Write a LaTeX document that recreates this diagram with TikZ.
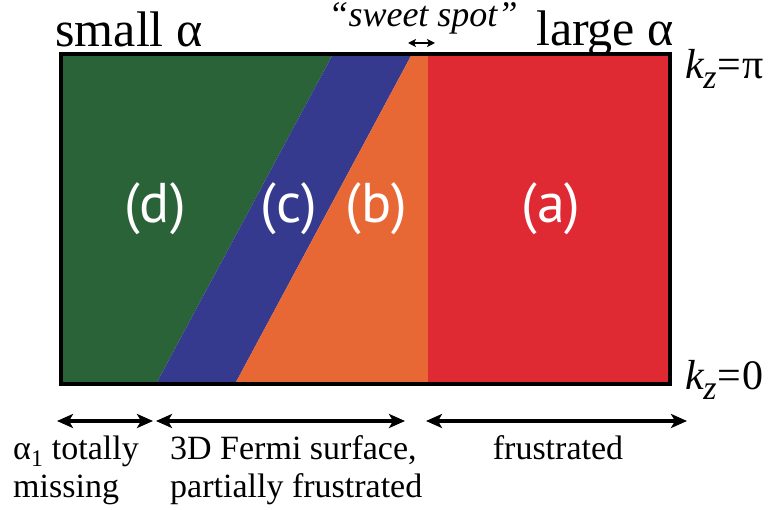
\documentclass[tikz,border=0pt]{standalone}
\usepackage{fontspec}
\setmainfont{Liberation Serif}
\newfontfamily\labfont{PT Sans}
\usetikzlibrary{arrows.meta}
\definecolor{cgreen}{HTML}{2B6339}
\definecolor{cblue}{HTML}{363A8E}
\definecolor{corange}{HTML}{E86835}
\definecolor{cred}{HTML}{E02A33}
\tikzset{
  reglabel/.style={text=white,font=\labfont\fontsize{56}{60}\selectfont},
  toplabel/.style={font=\fontsize{50}{56}\selectfont,anchor=base},
  kzlabel/.style={font=\fontsize{42}{46}\selectfont,anchor=base west,inner sep=0pt},
  botlabel/.style={font=\fontsize{34}{38}\selectfont,anchor=base west,inner sep=0pt},
  span/.style={{Stealth[length=16pt,width=14pt,inset=4pt]}-{Stealth[length=16pt,width=14pt,inset=4pt]},line width=3.5pt,black},
}
\newcommand{\kzsub}{\textit{k}\kern-1pt\raisebox{-10pt}{\fontsize{34}{36}\selectfont\textit{z}}\kern1pt}
\begin{document}
\begin{tikzpicture}[x=1pt,y=-1pt]
\useasboundingbox (0,0) rectangle (771,510);
\fill[cgreen] (61,54) -- (333,54) -- (156,384) -- (61,384) -- cycle;
\fill[cblue] (333,54) -- (412,54) -- (235,384) -- (156,384) -- cycle;
\fill[corange] (412,54) -- (428,54) -- (428,384) -- (235,384) -- cycle;
\fill[cred] (428,54) -- (670,54) -- (670,384) -- (428,384) -- cycle;
\draw[line width=3.2pt] (61,54) rectangle (670,384);
\node[reglabel] (d) at (155,209) {(d)};
\node[reglabel] (c) at (289,209) {(c)};
\node[reglabel] (b) at (376,209) {(b)};
\node[reglabel] (a) at (551,209) {(a)};
\node[toplabel] (small) at (129,47) {small α};
\node[toplabel] (large) at (605,46) {large α};
\node[font=\fontsize{36}{40}\selectfont\itshape,anchor=base] (sweet) at (423,27) {“sweet spot”};
\coordinate (s1) at (408,43);
\coordinate (s2) at (435,43);
\draw[{Stealth[length=8pt,width=8pt,inset=2pt]}-{Stealth[length=8pt,width=8pt,inset=2pt]},line width=2pt,black] (s1) -- (s2);
\node[kzlabel] (kpi) at (685,79) {\kzsub=\kern1pt π};
\node[kzlabel] (k0) at (685,389) {\kzsub=\kern1pt 0};
\coordinate (a1) at (57,421);
\coordinate (a2) at (153,421);
\coordinate (a3) at (156,421);
\coordinate (a4) at (405,421);
\coordinate (a5) at (426,421);
\coordinate (a6) at (687,421);
\draw[span] (a1) -- (a2);
\draw[span] (a3) -- (a4);
\draw[span] (a5) -- (a6);
\node[botlabel] (l1) at (13,459) {α\textsubscript{1} totally};
\node[botlabel] (l2) at (13,497) {missing};
\node[botlabel] (l3) at (170,459) {3D Fermi surface,};
\node[botlabel] (l4) at (170,497) {partially frustrated};
\node[botlabel,anchor=base] (l5) at (558,459) {frustrated};
\end{tikzpicture}
\end{document}
